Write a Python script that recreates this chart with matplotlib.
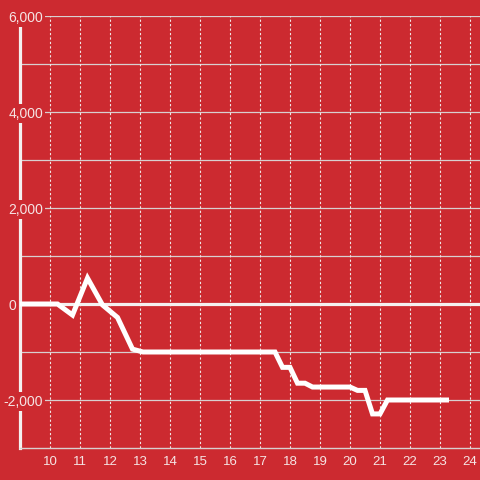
import matplotlib
matplotlib.use("Agg")
import matplotlib.pyplot as plt
from matplotlib.transforms import ScaledTranslation

# data
hours = [9, 10.25, 10.75, 11.25, 11.75, 12.25, 12.75, 13.1, 17.5, 17.75, 18.0,
         18.25, 18.5, 18.75, 20.0, 20.25, 20.5, 20.75, 21.0, 21.25, 23.3]
values = [0, 0, -230, 540, -20, -280, -940, -1000, -1000, -1320, -1320,
          -1650, -1650, -1730, -1730, -1800, -1800, -2290, -2290, -2000, -2000]
xticks = list(range(10, 25))
yticks = [-2000, 0, 2000, 4000, 6000]
ygrid = list(range(-2000, 7000, 1000))

bg = "#cc2a30"
txt = "#f5e4e4"
plt.rcParams["font.family"] = ["Liberation Sans", "DejaVu Sans"]

fig = plt.figure(figsize=(4.8, 4.8), dpi=100)
fig.patch.set_facecolor(bg)
ax = fig.add_axes([20 / 480, 32 / 480, 460 / 480, 432 / 480])
ax.set_facecolor(bg)

ax.set_xlim(9, 24 + 1 / 3)
ax.set_ylim(-3000, 6000)

# grid
for g in ygrid:
    if g != 0:
        ax.axhline(g, color="#d8d0d0", lw=0.9, zorder=1)
for x in xticks:
    ax.axvline(x, color="#f0e6e6", lw=0.8, ls=(0, (2, 2)), zorder=1)
ax.axhline(0, color="#f4f0f0", lw=2.3, zorder=2)

ax.plot(hours, values, color="white", lw=3.6, solid_joinstyle="miter",
        solid_capstyle="butt", zorder=3)

for s in ["top", "right"]:
    ax.spines[s].set_visible(False)
ax.spines["left"].set_color("#f4f0f0")
ax.spines["left"].set_linewidth(2.3)
ax.spines["bottom"].set_color("#d8d0d0")
ax.spines["bottom"].set_linewidth(1)

ax.set_xticks(xticks)
ax.set_xticklabels([str(x) for x in xticks])
ax.set_yticks(yticks)
ax.set_yticklabels(["{:,}".format(v) for v in yticks])
ax.tick_params(axis="x", length=0, pad=6, colors=txt, labelsize=9.5)
ax.tick_params(axis="y", length=0, pad=-16.6, colors=txt, labelsize=10)
ax.yaxis.set_zorder(10)

for lab in ax.get_yticklabels():
    lab.set_bbox(dict(facecolor=bg, edgecolor="none", pad=1.5))
    if lab.get_text() == "0":
        lab.set_transform(lab.get_transform() + ScaledTranslation(-27 / 100, 0, fig.dpi_scale_trans))

fig.savefig("out.png", dpi=100, facecolor=bg)
